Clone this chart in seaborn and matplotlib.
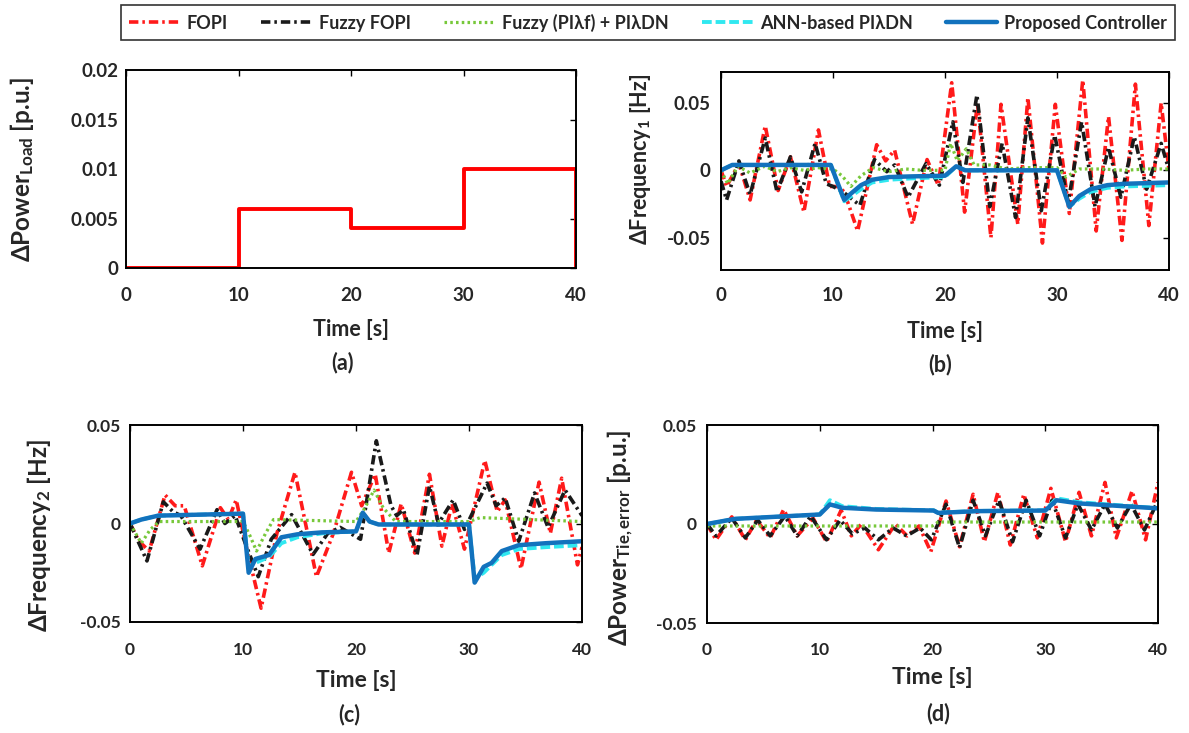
import matplotlib
matplotlib.use("Agg")
import matplotlib.pyplot as plt
import seaborn as sns

sns.set_style("white")
plt.rcParams["font.family"] = ["Lato", "DejaVu Sans"]
plt.rcParams["font.weight"] = "bold"
plt.rcParams["axes.labelweight"] = "bold"
plt.rcParams["axes.unicode_minus"] = False
plt.rcParams["mathtext.fontset"] = "custom"
plt.rcParams["mathtext.rm"] = "Lato:bold"
plt.rcParams["mathtext.it"] = "Lato:bold"
plt.rcParams["mathtext.bf"] = "Lato:bold"

# controllers (legend order)
controllers = ["FOPI", "Fuzzy FOPI", "Fuzzy (PI\u03bbf) + PI\u03bbDN",
               "ANN-based PI\u03bbDN", "Proposed Controller"]

x_ticks = [0, 10, 20, 30, 40]
x_ticklabels = ["0", "10", "20", "30", "40"]

# (a) load step
load_t = [0, 10, 10, 20, 20, 30, 30, 40, 40]
load_v = [0, 0, 0.006, 0.006, 0.004, 0.004, 0.01, 0.01, 0]
load_yticks = [0, 0.005, 0.01, 0.015, 0.02]
load_yticklabels = ["0", "0.005", "0.01", "0.015", "0.02"]

# (b) frequency deviation area 1
f1_fopi_t = [0, 0.5, 1.6, 2.6, 3.95, 5.1, 6.2, 7.4, 8.7, 9.7, 10.5, 11.0, 12.2, 13.9, 14.7, 15.5,
             17.1, 18.4, 19.4, 20.6, 21.75, 22.9, 24.1, 25.0, 26.5, 27.4, 28.7, 29.85, 31.1, 32.3,
             33.5, 34.6, 35.8, 37.0, 38.2, 39.3, 40.0]
f1_fopi_v = [0, -0.012, 0.005, -0.022, 0.033, -0.015, 0.01, -0.031, 0.03, -0.012, -0.012, -0.016,
             -0.045, 0.019, 0.007, 0.015, -0.04, 0.008, -0.011, 0.065, -0.031, 0.05, -0.05, 0.049,
             -0.04, 0.054, -0.054, 0.049, -0.032, 0.067, -0.045, 0.04, -0.052, 0.064, -0.041, 0.05, 0.0]
f1_ffopi_t = [0, 0.5, 1.6, 2.6, 3.95, 5.0, 6.2, 7.2, 8.4, 9.4, 10.0, 10.9, 12.4, 13.7, 14.8, 15.5,
              16.7, 18.3, 19.5, 20.7, 21.6, 22.85, 24.0, 25.1, 26.3, 27.4, 28.6, 29.8, 31.0, 32.2,
              33.4, 34.6, 35.7, 36.9, 38.0, 39.3, 40.0]
f1_ffopi_v = [-0.008, -0.022, 0.007, -0.018, 0.024, -0.016, 0.01, -0.016, 0.02, -0.01, -0.012, -0.016,
              -0.026, 0.008, -0.001, 0.004, -0.02, 0.005, -0.011, 0.036, -0.009, 0.056, -0.027, 0.02,
              -0.035, 0.039, -0.03, 0.026, -0.024, 0.036, -0.027, 0.017, -0.02, 0.025, -0.014, 0.02, 0.0]
f1_fuzzy_t = [0, 0.6, 1.5, 2.6, 3.9, 5.0, 6.2, 7.4, 8.6, 10.0, 10.8, 11.6, 12.5, 13.6, 15.0, 16.5,
              18.0, 20.0, 20.5, 21.1, 21.9, 22.6, 24.0, 25.5, 27.5, 30.0, 30.8, 32.0, 34.0, 36.0,
              38.0, 40.0]
f1_fuzzy_v = [0, -0.01, 0.003, -0.002, 0.003, -0.001, 0.002, 0.0, 0.002, 0.001, -0.004, -0.012,
              -0.004, 0.002, -0.001, 0.001, 0.0, 0.0, 0.02, 0.007, 0.016, 0.004, 0.004, 0.001, 0.002,
              0.002, -0.005, 0.001, 0.001, 0.0, 0.001, 0.001]
f1_ctrl_t = [0, 1.0, 9.8, 11.0, 11.5, 12.5, 13.5, 15.0, 17.0, 20.0, 21.0, 21.8, 25.0, 30.0, 31.1,
             32.0, 33.0, 34.5, 36.0, 40.0]
f1_ann_v = [0, 0.004, 0.004, -0.023, -0.02, -0.014, -0.009, -0.007, -0.006, -0.005, 0.003, 0.0,
            0.0, 0.0, -0.027, -0.021, -0.016, -0.013, -0.012, -0.011]
f1_prop_v = [0, 0.004, 0.004, -0.022, -0.018, -0.011, -0.007, -0.005, -0.0045, -0.004, 0.003, 0.0,
             0.0, 0.0, -0.027, -0.019, -0.014, -0.011, -0.01, -0.009]

# (c) frequency deviation area 2
f2_fopi_t = [0, 0.8, 1.7, 3.1, 4.0, 4.8, 6.4, 8.0, 8.7, 9.4, 10.3, 11.6, 13.0, 14.6, 16.5, 18.0,
             19.6, 20.5, 21.7, 22.9, 24.0, 25.2, 26.5, 27.6, 28.5, 29.6, 31.4, 32.5, 33.2, 34.6,
             36.2, 37.2, 38.2, 39.6, 40.0]
f2_fopi_v = [0, -0.009, -0.014, 0.0145, 0.009, 0.009, -0.0215, 0.008, 0.002, 0.012, -0.012, -0.043,
             -0.005, 0.026, -0.027, -0.005, 0.026, 0.009, 0.025, -0.015, 0.010, -0.015, 0.025,
             -0.0115, 0.010, -0.013, 0.032, 0.006, 0.012, -0.023, 0.021, -0.005, 0.023, -0.021, -0.012]
f2_ffopi_t = [0, 1.5, 2.95, 3.8, 4.5, 6.2, 7.7, 8.4, 9.3, 10.2, 11.35, 12.5, 14.3, 16.2, 17.5, 18.6,
              20.4, 21.8, 23.1, 23.6, 24.2, 25.4, 26.5, 27.3, 28.6, 29.6, 31.6, 32.4, 33.2, 34.4,
              35.8, 37.0, 38.5, 40.0]
f2_ffopi_v = [0, -0.019, 0.011, 0.006, 0.004, -0.013, 0.007, 0.0, 0.004, -0.01, -0.027, -0.008,
              0.0045, -0.0157, -0.005, -0.002, -0.008, 0.042, 0.009, 0.004, 0.007, -0.016, 0.019, 0.0,
              0.012, -0.003, 0.0205, 0.009, 0.013, -0.009, 0.0155, -0.002, 0.017, 0.004]
f2_fuzzy_t = [0, 1.0, 1.8, 2.6, 10.0, 10.6, 11.2, 12.0, 12.7, 20.0, 20.8, 21.6, 22.4, 23.5, 30.0,
              31.0, 40.0]
f2_fuzzy_v = [0, -0.01, -0.003, 0.001, 0.001, -0.006, -0.014, -0.005, 0.002, 0.001, 0.008, 0.017,
              0.008, 0.001, 0.001, 0.003, 0.001]
f2_ctrl_t = [0, 1.0, 2.5, 10.0, 10.5, 11.1, 12.3, 13.4, 14.8, 17.0, 20.0, 20.6, 21.2, 22.0, 30.0,
             30.5, 31.3, 32.0, 32.9, 34.4, 36.8, 40.0]
f2_ann_v = [0, 0.002, 0.004, 0.005, -0.022, -0.02, -0.017, -0.01, -0.007, -0.005, -0.004, 0.005,
            0.001, -0.0005, -0.0005, -0.028, -0.025, -0.021, -0.016, -0.013, -0.012, -0.011]
f2_prop_v = [0, 0.002, 0.004, 0.005, -0.025, -0.018, -0.016, -0.007, -0.0055, -0.0045, -0.004,
             0.0055, 0.001, -0.0005, -0.0005, -0.03, -0.022, -0.02, -0.014, -0.011, -0.01, -0.009]

# (d) tie-line power error
tie_fopi_t = [0, 0.8, 2.2, 3.4, 4.4, 5.6, 6.8, 8.0, 9.4, 10.6, 11.9, 12.8, 13.7, 15.2, 16.7, 17.75,
              18.8, 19.85, 21.2, 22.4, 23.6, 24.6, 25.8, 26.9, 28.1, 29.3, 30.5, 31.8, 33.0, 34.1,
              35.3, 36.3, 37.7, 38.9, 40.0]
tie_fopi_v = [0, -0.008, 0.0036, -0.008, 0.002, -0.007, 0.0073, -0.006, 0.003, -0.009, 0.007, -0.006,
              0.0, -0.013, 0.0, -0.006, -0.001, -0.014, 0.0116, -0.0115, 0.015, -0.009, 0.016,
              -0.0106, 0.015, -0.007, 0.018, -0.009, 0.016, -0.006, 0.021, -0.007, 0.0167, -0.008, 0.021]
tie_ffopi_t = [0, 0.8, 2.2, 3.4, 4.5, 5.6, 6.9, 8.0, 9.2, 10.6, 11.8, 12.9, 14.0, 15.2, 16.5, 17.7,
               18.9, 19.9, 21.2, 22.4, 23.6, 24.7, 25.9, 27.1, 28.3, 29.5, 30.6, 31.8, 32.9, 34.1,
               35.3, 36.4, 37.6, 38.8, 40.0]
tie_ffopi_v = [0, -0.006, 0.003, -0.007, 0.002, -0.006, 0.004, -0.006, 0.004, -0.008, 0.002, -0.005,
               -0.002, -0.008, -0.002, -0.006, -0.002, -0.008, 0.01, -0.012, 0.012, -0.006, 0.012,
               -0.009, 0.012, -0.006, 0.012, -0.007, 0.01, -0.003, 0.01, -0.002, 0.01, -0.003, 0.012]
tie_fuzzy_t = [0, 20.0, 20.5, 40.0]
tie_fuzzy_v = [-0.001, -0.001, 0.001, 0.001]
tie_ctrl_t = [0, 2.5, 10.0, 10.9, 12.0, 15.0, 20.1, 20.5, 24.0, 30.0, 31.0, 33.0, 40.0]
tie_ann_v = [0, 0.0026, 0.0048, 0.012, 0.009, 0.0076, 0.0069, 0.0057, 0.0066, 0.0069, 0.013,
             0.011, 0.008]
tie_prop_v = [0, 0.0026, 0.0048, 0.0099, 0.0082, 0.0073, 0.0068, 0.0056, 0.0065, 0.0068, 0.012,
              0.0104, 0.0079]

pm_yticks = [-0.05, 0, 0.05]
pm_yticklabels = ["-0.05", "0", "0.05"]

styles = {
    "FOPI": dict(color="#ff1a1a", linestyle=(0, (2.6, 1.1, 0.7, 1.1)), linewidth=2.6),
    "Fuzzy FOPI": dict(color="#1a1a1a", linestyle=(0, (2.6, 1.1, 0.7, 1.1)), linewidth=2.6),
    "Fuzzy (PI\u03bbf) + PI\u03bbDN": dict(color="#77c83a", linestyle=(0, (0.8, 1.0)), linewidth=2.3),
    "ANN-based PI\u03bbDN": dict(color="#30e8f0", linestyle=(0, (2.5, 1.0)), linewidth=2.8),
    "Proposed Controller": dict(color="#1272bd", linestyle="-", linewidth=3.2),
}

W, H = 1189, 733
fig = plt.figure(figsize=(W / 100, H / 100), dpi=100)


def px_box(l, t, r, b):
    return [l / W, 1 - b / H, (r - l) / W, (b - t) / H]


def draw(ax, series):
    for name, (t, v) in zip(controllers, series):
        sns.lineplot(x=t, y=v, ax=ax, sort=False, estimator=None, legend=False,
                     label=name, **styles[name])


def style_axes(ax, xpad, ypad, fs):
    ax.set_xlim(0, 40)
    ax.set_xticks(x_ticks)
    ax.set_xticklabels(x_ticklabels)
    ax.tick_params(axis="both", direction="in", top=True, right=True, length=4,
                   width=1.0, labelsize=fs, color="black")
    ax.tick_params(axis="x", pad=xpad)
    ax.tick_params(axis="y", pad=ypad)
    for s in ax.spines.values():
        s.set_visible(True)
        s.set_color("black")
        s.set_linewidth(1.4)
    for lab in ax.get_xticklabels() + ax.get_yticklabels():
        lab.set_fontweight("bold")


# (a)
ax_a = fig.add_axes(px_box(126, 70, 576, 268))
sns.lineplot(x=load_t, y=load_v, ax=ax_a, sort=False, estimator=None, color="#ff0000",
             linewidth=2.8)
ax_a.set_ylim(0, 0.02)
ax_a.set_yticks(load_yticks)
ax_a.set_yticklabels(load_yticklabels)
style_axes(ax_a, 13.5, 5.5, 13.5)
ax_a.set_ylabel("\u0394Power$_{\\mathrm{Load}}$ [p.u.]", fontsize=17.5, fontweight="bold")
ax_a.yaxis.set_label_coords(-0.2, 0.5)
ax_a.set_xlabel("Time [s]", fontsize=15.5, fontweight="bold")
ax_a.xaxis.set_label_coords(0.5, -0.26)

# (b)
ax_b = fig.add_axes(px_box(721, 72, 1169, 270))
draw(ax_b, [(f1_fopi_t, f1_fopi_v), (f1_ffopi_t, f1_ffopi_v), (f1_fuzzy_t, f1_fuzzy_v),
            (f1_ctrl_t, f1_ann_v), (f1_ctrl_t, f1_prop_v)])
ax_b.set_ylim(-0.074, 0.073)
ax_b.set_yticks(pm_yticks)
ax_b.set_yticklabels(pm_yticklabels)
style_axes(ax_b, 12, 7.5, 13.5)
ax_b.set_ylabel("\u0394Frequency$_{\\mathrm{1}}$ [Hz]", fontsize=15.5, fontweight="bold")
ax_b.yaxis.set_label_coords(-0.152, 0.56)
ax_b.set_xlabel("Time [s]", fontsize=15.5, fontweight="bold")
ax_b.xaxis.set_label_coords(0.5, -0.26)

# (c)
ax_c = fig.add_axes(px_box(130, 425, 582, 622))
draw(ax_c, [(f2_fopi_t, f2_fopi_v), (f2_ffopi_t, f2_ffopi_v), (f2_fuzzy_t, f2_fuzzy_v),
            (f2_ctrl_t, f2_ann_v), (f2_ctrl_t, f2_prop_v)])
ax_c.set_ylim(-0.05, 0.05)
ax_c.set_yticks(pm_yticks)
ax_c.set_yticklabels(pm_yticklabels)
style_axes(ax_c, 14.5, 6.5, 12.5)
ax_c.set_ylabel("\u0394Frequency$_{\\mathrm{2}}$ [Hz]", fontsize=17.5, fontweight="bold")
ax_c.yaxis.set_label_coords(-0.17, 0.44)
ax_c.set_xlabel("Time [s]", fontsize=16.5, fontweight="bold")
ax_c.xaxis.set_label_coords(0.5, -0.245)

# (d)
ax_d = fig.add_axes(px_box(707, 425, 1158, 623))
draw(ax_d, [(tie_fopi_t, tie_fopi_v), (tie_ffopi_t, tie_ffopi_v), (tie_fuzzy_t, tie_fuzzy_v),
            (tie_ctrl_t, tie_ann_v), (tie_ctrl_t, tie_prop_v)])
ax_d.set_ylim(-0.05, 0.05)
ax_d.set_yticks(pm_yticks)
ax_d.set_yticklabels(pm_yticklabels)
style_axes(ax_d, 13.5, 7.5, 12.5)
ax_d.set_ylabel("\u0394Power$_{\\mathrm{Tie,error}}$ [p.u.]", fontsize=17.5, fontweight="bold")
ax_d.yaxis.set_label_coords(-0.158, 0.43)
ax_d.set_xlabel("Time [s]", fontsize=16.5, fontweight="bold")
ax_d.xaxis.set_label_coords(0.5, -0.222)

# panel captions
for txt, xp, yp in [("(a)", 343, 363), ("(b)", 940, 365), ("(c)", 349, 715), ("(d)", 938, 714)]:
    fig.text(xp / W, 1 - yp / H, txt, ha="center", va="center", fontsize=15.5, fontweight="bold")

# shared legend
handles = ax_b.get_lines()[:5]
leg = fig.legend(handles, controllers, loc="center", ncol=5,
                 bbox_to_anchor=(648 / W, 1 - 22.5 / H), frameon=True, fancybox=False,
                 edgecolor="black", fontsize=13, handlelength=2.8, columnspacing=1.85,
                 handletextpad=0.4, borderpad=0.45)
leg.get_frame().set_linewidth(1.2)
for t in leg.get_texts():
    t.set_fontweight("bold")

fig.savefig("out.png", dpi=100)
